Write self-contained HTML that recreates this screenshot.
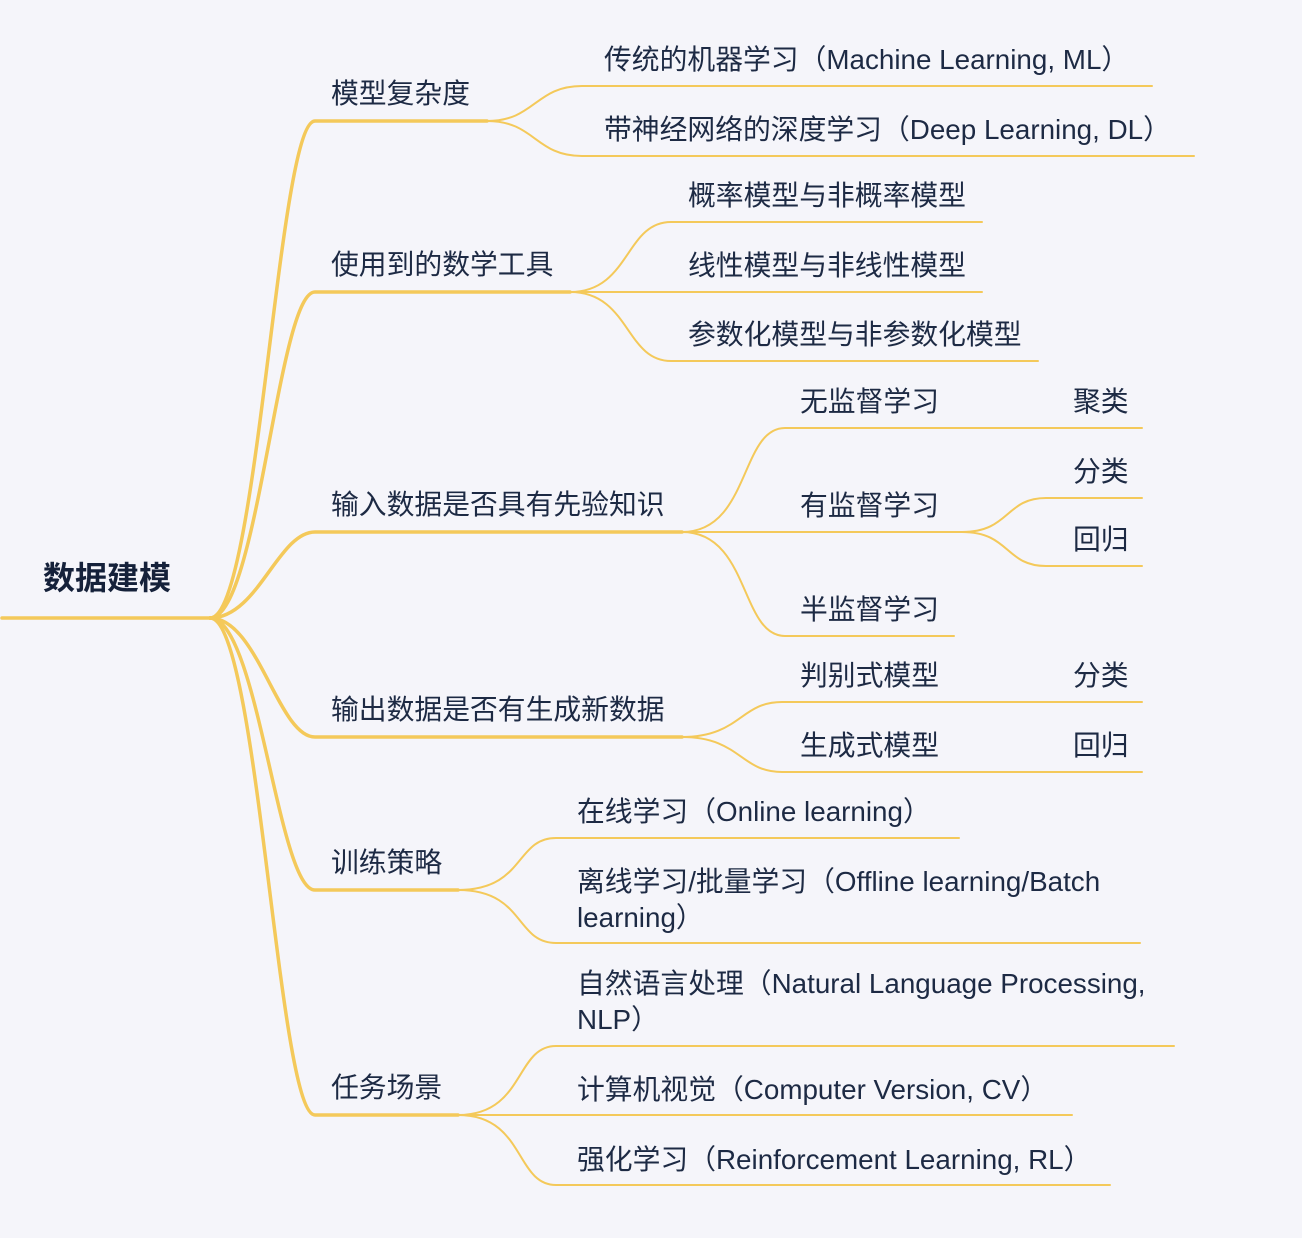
<!DOCTYPE html>
<html><head><meta charset="utf-8">
<style>
html,body{margin:0;padding:0;background:#f5f5fa;}
svg{display:block;}
text{font-family:"Liberation Sans","Noto Sans CJK SC",sans-serif;font-size:27.8px;fill:#1d2a44;}
.b{fill:none;stroke:#f4c95a;stroke-linecap:round;}
.l1{stroke-width:3.5;}
.l2{stroke-width:2;}
</style></head>
<body>
<svg width="1302" height="1238" viewBox="0 0 1302 1238" xmlns="http://www.w3.org/2000/svg">
<rect width="1302" height="1238" fill="#f5f5fa"/>
<path class="b l1" d="M2,618 L212,618"/>
<text x="43" y="589" style="font-size:32px;font-weight:bold;fill:#15213a">数据建模</text>
<g class="b l1">
<path d="M210,618 C258,618 278,121 315,121 L487,121"/>
<path d="M210,618 C258,618 278,292 315,292 L570,292"/>
<path d="M210,618 C258,618 278,532 315,532 L682,532"/>
<path d="M210,618 C258,618 278,737 315,737 L682,737"/>
<path d="M210,618 C258,618 278,890 315,890 L458,890"/>
<path d="M210,618 C258,618 278,1115 315,1115 L458,1115"/>
</g>
<text x="331" y="103">模型复杂度</text>
<text x="331" y="274">使用到的数学工具</text>
<text x="331" y="514">输入数据是否具有先验知识</text>
<text x="331" y="719">输出数据是否有生成新数据</text>
<text x="331" y="872">训练策略</text>
<text x="331" y="1097">任务场景</text>
<g class="b l2">
<path d="M487,121 C535,121 535,86 582,86 L1152,86"/>
<path d="M487,121 C535,121 535,156 582,156 L1194,156"/>
<path d="M570,292 C630,292 625,222 671,222 L982,222"/>
<path d="M570,292 L982,292"/>
<path d="M570,292 C630,292 625,361 671,361 L1038,361"/>
<path d="M682,532 C750,532 740,428 785,428 L1142,428"/>
<path d="M682,532 L962,532"/>
<path d="M682,532 C750,532 740,636 785,636 L954,636"/>
<path d="M962,532 C1010,532 1005,498 1046,498 L1142,498"/>
<path d="M962,532 C1010,532 1005,566 1046,566 L1142,566"/>
<path d="M682,737 C740,737 740,702 782,702 L1142,702"/>
<path d="M682,737 C740,737 740,772 782,772 L1142,772"/>
<path d="M458,890 C525,890 515,838 556,838 L959,838"/>
<path d="M458,890 C525,890 515,943 556,943 L1140,943"/>
<path d="M458,1115 C525,1115 515,1046 556,1046 L1174,1046"/>
<path d="M458,1115 L1072,1115"/>
<path d="M458,1115 C525,1115 515,1185 556,1185 L1110,1185"/>
</g>
<text x="604" y="69">传统的机器学习（Machine Learning, ML）</text>
<text x="604" y="139">带神经网络的深度学习（Deep Learning, DL）</text>
<text x="688" y="205">概率模型与非概率模型</text>
<text x="688" y="275">线性模型与非线性模型</text>
<text x="688" y="344">参数化模型与非参数化模型</text>
<text x="800" y="411">无监督学习</text>
<text x="1073" y="411">聚类</text>
<text x="800" y="515">有监督学习</text>
<text x="1073" y="481">分类</text>
<text x="1073" y="549">回归</text>
<text x="800" y="619">半监督学习</text>
<text x="800" y="685">判别式模型</text>
<text x="1073" y="685">分类</text>
<text x="800" y="755">生成式模型</text>
<text x="1073" y="755">回归</text>
<text x="577" y="821">在线学习（Online learning）</text>
<text x="577" y="891">离线学习/批量学习（Offline learning/Batch</text>
<text x="577" y="927">learning）</text>
<text x="577" y="993">自然语言处理（Natural Language Processing,</text>
<text x="577" y="1029">NLP）</text>
<text x="577" y="1099">计算机视觉（Computer Version, CV）</text>
<text x="577" y="1169">强化学习（Reinforcement Learning, RL）</text>
</svg>
</body></html>
